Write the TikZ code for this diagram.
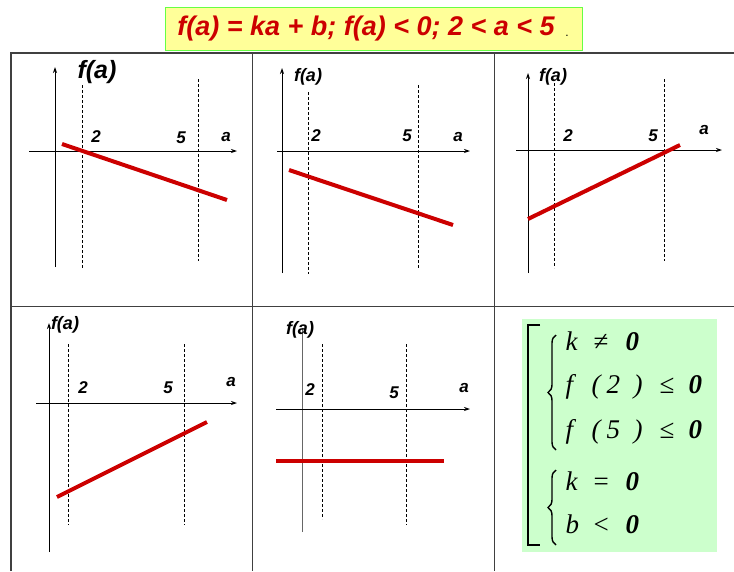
\documentclass[tikz,border=0pt]{standalone}
\usepackage{fontspec}
\setmainfont{Liberation Sans}
\newfontfamily\sysfont{Liberation Serif}
\usetikzlibrary{arrows.meta, decorations.pathreplacing}
\definecolor{plotred}{HTML}{CC0000}
\definecolor{titlefill}{HTML}{FFFF99}
\definecolor{titleedge}{HTML}{66FF44}
\definecolor{sysfill}{HTML}{CCFFCC}
\definecolor{rulegray}{HTML}{404040}
\newcommand{\systok}[2]{\rlap{\hspace{#1pt}#2}}
\begin{document}
\begin{tikzpicture}[x=1pt, y=-1pt, >={Stealth[length=6pt,width=4pt]},
  axis/.style={->, line width=0.8pt},
  guide/.style={line width=0.6pt, dash pattern=on 3pt off 2pt},
  graph/.style={line width=4pt, draw=plotred},
  lbl/.style={font=\fontsize{17}{17}\selectfont\bfseries\itshape, inner sep=0pt},
  flbl/.style={font=\fontsize{18}{18}\selectfont\bfseries\itshape, inner sep=0pt},
  sysrow/.style={anchor=base west, inner sep=0pt, font=\fontsize{27}{27}\selectfont\sysfont\itshape},
  sysbrace/.style={decorate, decoration={brace, amplitude=8pt}, line width=1.4pt}]
\useasboundingbox (0,0) rectangle (734,571);

% title
\draw[fill=titlefill, draw=titleedge, line width=1pt] (165,7) rectangle (582,50);
\node[font=\fontsize{27}{27}\selectfont\bfseries\itshape, text=plotred, inner sep=0pt] (title) at (366,29)
  {f(a) = ka + b; f(a) < 0; 2 < a < 5};
\node[font=\fontsize{12}{12}\selectfont, inner sep=0pt] (dot) at (567,36) {.};

% table
\draw[line width=2.5pt, rulegray] (11,571) -- (11,53) -- (734,53);
\draw[line width=0.8pt, rulegray] (252,53) -- (252,571);
\draw[line width=0.8pt, rulegray] (494,53) -- (494,571);
\draw[line width=0.8pt, rulegray] (11,306) -- (734,306);

% panel 1
\draw[axis] (55,267) -- (55,67);
\draw[axis] (29,151) -- (237,151);
\draw[guide] (82,85) -- (82,268);
\draw[guide] (198,79) -- (198,261);
\draw[graph] (62,144) -- (227,200);
\node[font=\fontsize{25}{25}\selectfont\bfseries\itshape, inner sep=0pt] (fa1) at (97,72) {f(a)};
\node[lbl] (two1) at (96,137) {2};
\node[lbl] (five1) at (181,138) {5};
\node[lbl] (a1) at (226,137) {a};

% panel 2
\draw[axis] (282,273) -- (282,68);
\draw[axis] (277,151) -- (470,151);
\draw[guide] (308,92) -- (308,274);
\draw[guide] (418,85) -- (418,268);
\draw[graph] (289,170) -- (453,225);
\node[flbl] (fa2) at (308,77) {f(a)};
\node[lbl] (two2) at (316,136) {2};
\node[lbl] (five2) at (407,136) {5};
\node[lbl] (a2) at (458,137) {a};

% panel 3
\draw[axis] (528,273) -- (528,73);
\draw[axis] (516,150) -- (722,150);
\draw[guide] (554,83) -- (554,268);
\draw[guide] (664,79) -- (664,261);
\draw[graph] (528,219) -- (680,145);
\node[flbl] (fa3) at (553,77) {f(a)};
\node[lbl] (two3) at (568,136) {2};
\node[lbl] (five3) at (653,136) {5};
\node[lbl] (a3) at (704,130) {a};

% panel 4
\draw[axis] (49,552) -- (49,323);
\draw[axis] (36,403) -- (237,403);
\draw[guide] (68,344) -- (68,525);
\draw[guide] (184,344) -- (184,525);
\draw[graph] (57,497) -- (207,422);
\node[flbl] (fa4) at (65,325) {f(a)};
\node[lbl] (two4) at (83,388) {2};
\node[lbl] (five4) at (168,388) {5};
\node[lbl] (a4) at (231,382) {a};

% panel 5
\draw[line width=0.8pt, black!60] (302,532) -- (302,328);
\draw[axis] (276,409) -- (470,409);
\draw[guide] (322,344) -- (322,519);
\draw[guide] (406,344) -- (406,525);
\draw[graph] (276,461) -- (444,461);
\node[flbl] (fa5) at (300,330) {f(a)};
\node[lbl] (two5) at (310,390) {2};
\node[lbl] (five5) at (394,393) {5};
\node[lbl] (a5) at (464,388) {a};

% panel 6: the system
\fill[sysfill] (522,319) rectangle (717,552);
\draw[line width=1.2pt] (540,325) -- (528,325) -- (528,545) -- (540,545);
\draw[sysbrace] (556,450) -- (556,335);
\draw[sysbrace] (556,545) -- (556,470);
\node[sysrow] (r1) at (565,350) {\systok{0}{k}\systok{28}{\upshape ≠}\systok{60}{\bfseries 0}};
\node[sysrow] (r2) at (565,393) {\systok{0}{f}\systok{26}{(}\systok{41}{2}\systok{68}{)}\systok{94}{\upshape ≤}\systok{123}{\bfseries 0}};
\node[sysrow] (r3) at (565,438) {\systok{0}{f}\systok{26}{(}\systok{41}{5}\systok{68}{)}\systok{94}{\upshape ≤}\systok{123}{\bfseries 0}};
\node[sysrow] (r4) at (565,490) {\systok{0}{k}\systok{28}{\upshape =}\systok{60}{\bfseries 0}};
\node[sysrow] (r5) at (565,533) {\systok{0}{b}\systok{28}{\upshape <}\systok{60}{\bfseries 0}};
\end{tikzpicture}
\end{document}
